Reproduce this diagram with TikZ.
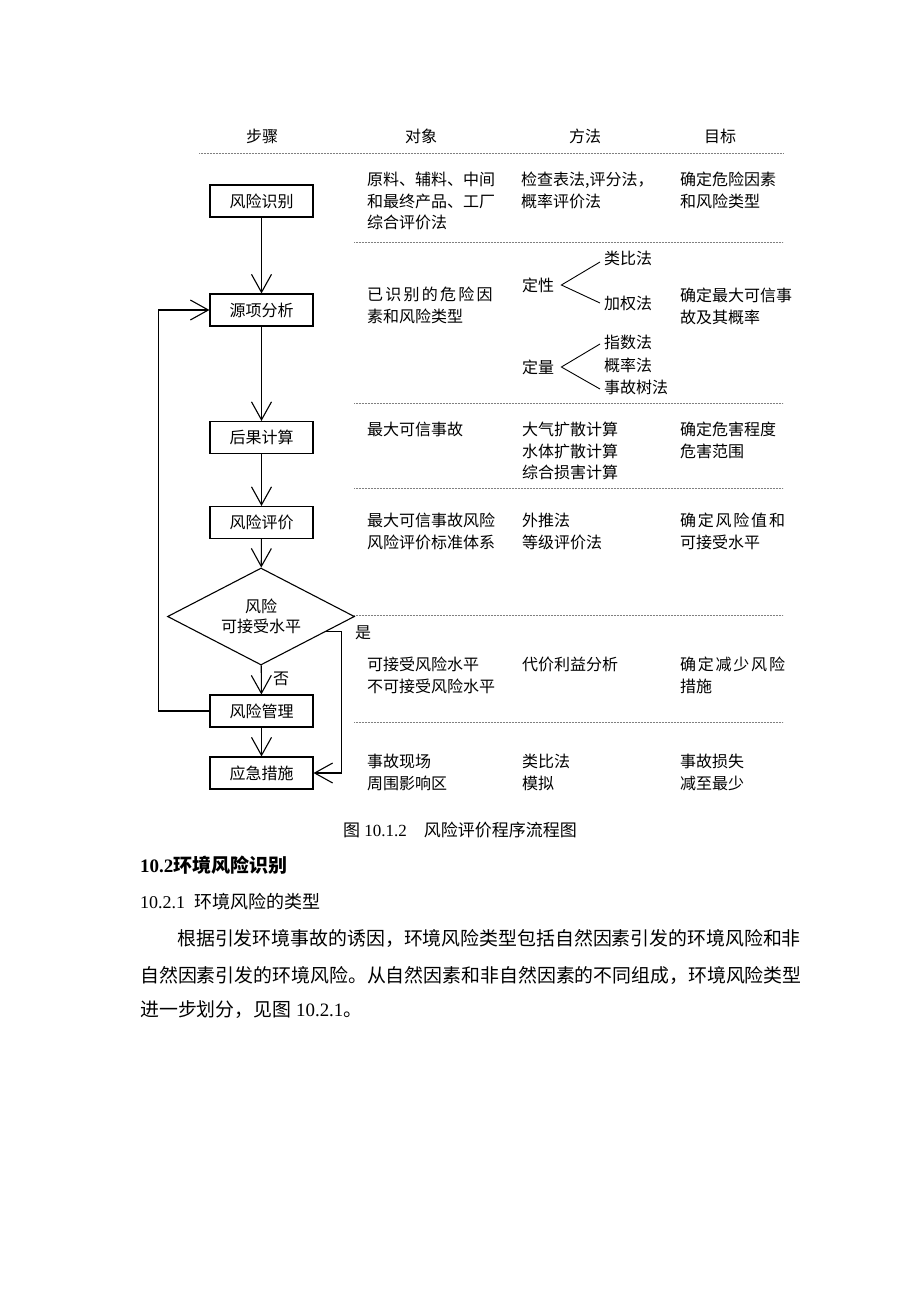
\documentclass[tikz,border=0pt]{standalone}
\usepackage{fontspec}
\usepackage{tikz}
\setmainfont{Liberation Serif}
\newfontfamily\cjk{Noto Sans CJK SC}
\usetikzlibrary{arrows.meta,shapes.geometric}

\tikzset{
  stepbox/.style={draw, line width=1.1pt, minimum width=103pt, minimum height=32pt,
    inner sep=0pt, font=\cjk\fontsize{16}{20}\selectfont},
  decision/.style={draw, diamond, line width=1.1pt, minimum width=187pt, minimum height=97pt,
    aspect=1.93, inner sep=0pt, align=center, font=\cjk\fontsize{16}{20}\selectfont},
  flow/.style={line width=1.1pt, -{Straight Barb[length=18pt,width=20pt]}},
  sep/.style={line width=0.6pt, gray, dash pattern=on 0.7pt off 0.8pt},
  cell/.style={anchor=north west, inner sep=0pt, align=left, font=\cjk\fontsize{16}{21.5}\selectfont},
  item/.style={anchor=west, inner sep=0pt, font=\cjk\fontsize{16}{20}\selectfont},
  head/.style={inner sep=0pt, font=\cjk\fontsize{16}{20}\selectfont}
}

\begin{document}
\begin{tikzpicture}[x=1pt, y=-1pt]
  \useasboundingbox (0,0) rectangle (920,1302);

  % Column headers
  \node[head] (hstep)   at (262,136) {步骤};
  \node[head] (hobject) at (421,136) {对象};
  \node[head] (hmethod) at (585,136) {方法};
  \node[head] (hgoal)   at (720,136) {目标};

  % Dotted separators
  \draw[sep] (199,153) -- (783,153);
  \foreach \yy in {242,403,488,615,722}
    \draw[sep] (354,\yy) -- (783,\yy);

  % --- Flow chart steps
  \node[stepbox] (identify) at (261.5,201)   {风险识别};
  \node[stepbox] (source)   at (261.5,310)   {源项分析};
  \node[stepbox] (conseq)   at (261.5,437.5) {后果计算};
  \node[stepbox] (evaluate) at (261.5,522.5) {风险评价};
  \node[decision] (accept)  at (261,616.5)   {风险\\可接受水平};
  \node[stepbox] (manage)   at (261.5,711)   {风险管理};
  \node[stepbox] (respond)  at (261.5,773)   {应急措施};

  \draw[flow] (identify) -- (source);
  \draw[flow] (source) -- (conseq);
  \draw[flow] (conseq) -- (evaluate);
  \draw[flow] (evaluate) -- (accept);
  \draw[flow] (accept) -- (manage);
  \draw[flow] (manage) -- (respond);

  % Yes branch goes down to the emergency step
  \draw[flow] (accept.-13) -- ++(15,0) coordinate (yesturn) |- (respond.east);
  \node[item] (yeslbl) at (355,633) {是};
  \node[item] (nolbl)  at (273,679) {否};

  % Feedback loop back to source analysis
  \draw[flow] (manage.west) -- ++(-51,0) coordinate (backturn) |- (source.west);

  % --- Row 1
  \node[cell] (obj1)  at (367,172) {原料、辅料、中间\\和最终产品、工厂\\综合评价法};
  \node[cell] (meth1) at (521,172) {检查表法,评分法，\\概率评价法};
  \node[cell] (goal1) at (680,172) {确定危险因素\\和风险类型};

  % --- Row 2
  \node[cell] (obj2)  at (367,287) {{\addfontfeature{LetterSpace=14}已识别的危险因}\\素和风险类型};
  \node[item] (qual)     at (522,285) {定性};
  \node[item] (analog)   at (604,258) {类比法};
  \node[item] (weight)   at (604,303) {加权法};
  \node[item] (quant)    at (522,367) {定量};
  \node[item] (index)    at (604,342) {指数法};
  \node[item] (prob)     at (604,365) {概率法};
  \node[item] (faulttree) at (604,387) {事故树法};
  \node[cell] (goal2) at (680,288) {确定最大可信事\\故及其概率};

  \draw[line width=0.9pt] ([xshift=-4pt,yshift=-4pt]analog.west) -- ([xshift=7pt]qual.east) -- ([xshift=-4pt]weight.west);
  \draw[line width=0.9pt] ([xshift=-4pt,yshift=-2pt]index.west) -- ([xshift=7pt]quant.east) -- ([xshift=-4pt,yshift=-2pt]faulttree.west);

  % --- Row 3
  \node[cell] (obj3)  at (367,422) {最大可信事故};
  \node[cell] (meth3) at (522,422) {大气扩散计算\\水体扩散计算\\综合损害计算};
  \node[cell] (goal3) at (680,422) {确定危害程度\\危害范围};

  % --- Row 4
  \node[cell] (obj4)  at (367,513) {最大可信事故风险\\风险评价标准体系};
  \node[cell] (meth4) at (522,513) {外推法\\等级评价法};
  \node[cell] (goal4) at (680,513) {{\addfontfeature{LetterSpace=11}确定风险值和}\\可接受水平};

  % --- Row 5
  \node[cell] (obj5)  at (367,657) {可接受风险水平\\不可接受风险水平};
  \node[cell] (meth5) at (522,657) {代价利益分析};
  \node[cell] (goal5) at (680,657) {{\addfontfeature{LetterSpace=11}确定减少风险}\\措施};

  % --- Row 6
  \node[cell] (obj6)  at (367,754) {事故现场\\周围影响区};
  \node[cell] (meth6) at (522,754) {类比法\\模拟};
  \node[cell] (goal6) at (680,754) {事故损失\\减至最少};

  % --- Caption and following text
  \node[inner sep=0pt, font=\fontsize{17}{20}\selectfont] (caption) at (460,830)
    {{\cjk 图} 10.1.2{\cjk 　风险评价程序流程图}};
  \node[anchor=west, inner sep=0pt, font=\bfseries\fontsize{19}{22}\selectfont] (sect) at (140,865)
    {10.2{\cjk 环境风险识别}};
  \node[anchor=west, inner sep=0pt, font=\fontsize{18}{22}\selectfont] (subsect) at (140,902)
    {10.2.1\ \ {\cjk 环境风险的类型}};
  \node[anchor=west, inner sep=0pt, font=\cjk\fontsize{18.9}{22}\selectfont] (para1) at (177,938)
    {根据引发环境事故的诱因，环境风险类型包括自然因素引发的环境风险和非};
  \node[anchor=west, inner sep=0pt, font=\cjk\fontsize{18.9}{22}\selectfont] (para2) at (140,975)
    {自然因素引发的环境风险。从自然因素和非自然因素的不同组成，环境风险类型};
  \node[anchor=west, inner sep=0pt, font=\fontsize{18.9}{22}\selectfont] (para3) at (140,1010)
    {{\cjk 进一步划分，见图} 10.2.1{\cjk 。}};
\end{tikzpicture}
\end{document}
